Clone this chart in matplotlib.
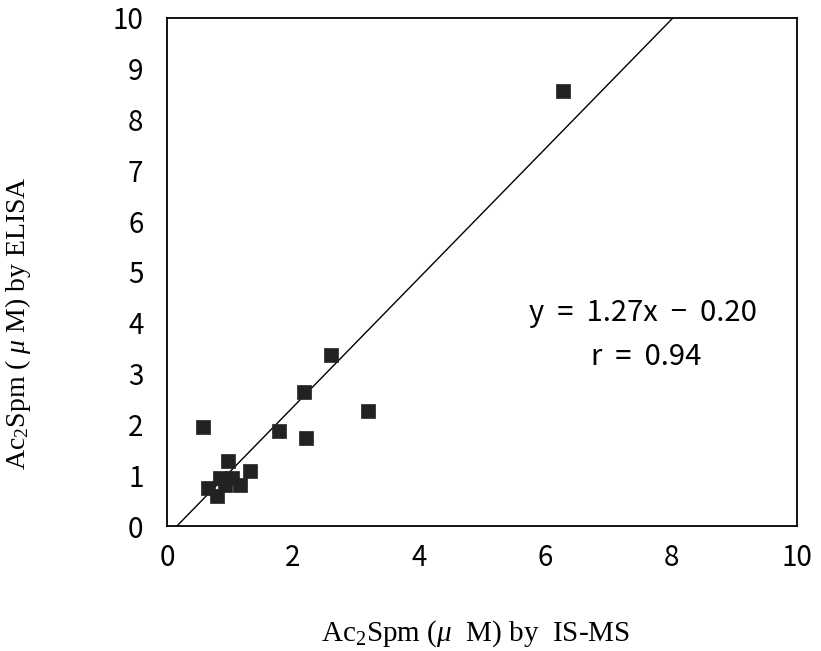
import matplotlib.pyplot as plt
import numpy as np

# data
ms_vals = [6.29, 3.19, 2.60, 2.17, 0.57, 1.78, 2.21, 0.97, 1.32,
           0.65, 0.84, 1.03, 1.16, 0.79, 0.92]
elisa_vals = [8.56, 2.26, 3.37, 2.64, 1.95, 1.87, 1.73, 1.28, 1.08,
              0.75, 0.94, 0.94, 0.81, 0.59, 0.81]
slope = 1.27
intercept = -0.20
r_value = 0.94
ticks = [0, 2, 4, 6, 8, 10]
yticks = list(range(0, 11))

plt.rcParams['font.family'] = ['Noto Sans CJK JP', 'DejaVu Sans']
plt.rcParams['mathtext.fontset'] = 'custom'
plt.rcParams['mathtext.rm'] = 'Liberation Serif'
plt.rcParams['mathtext.it'] = 'Liberation Serif:italic'

fig = plt.figure(figsize=(8.21, 6.51), dpi=100)
ax = fig.add_axes([0.2034, 0.192, 0.7674, 0.7806])

# regression line, clipped to the axes box
x0 = (0 - intercept) / slope
x1 = (10 - intercept) / slope
lx = np.array([x0, x1])
ax.plot(lx, slope * lx + intercept, color='black', lw=1.0, zorder=2)

ax.scatter(ms_vals, elisa_vals, marker='s', s=115, color='#222222',
           edgecolors='#222222', linewidths=0.5, zorder=3)

ax.set_xlim(0, 10)
ax.set_ylim(0, 10)
ax.set_xticks(ticks)
ax.set_yticks(yticks)
ax.tick_params(length=0, labelsize=20)
ax.tick_params(axis='y', pad=17)
ax.tick_params(axis='x', pad=12)
for s in ax.spines.values():
    s.set_linewidth(1.3)
    s.set_color('black')

serif = 'Liberation Serif'
ax.set_xlabel(r'Ac$_2$Spm ($\mu$  M) by  IS-MS', fontsize=21, family=serif)
ax.set_ylabel(r'Ac$_2$Spm ( $\mu$ M) by ELISA', fontsize=20, family=serif)
ax.xaxis.set_label_coords(0.49, -0.181)
ax.yaxis.set_label_coords(-0.212, 0.40)

ax.text(7.55, 4.19, f'y  =  {slope:.2f}x  \u2212  {abs(intercept):.2f}',
        ha='center', va='center', fontsize=21)
ax.text(7.6, 3.33, f'r  =  {r_value:.2f}', ha='center', va='center',
        fontsize=21)

fig.savefig('out.png', dpi=100)
